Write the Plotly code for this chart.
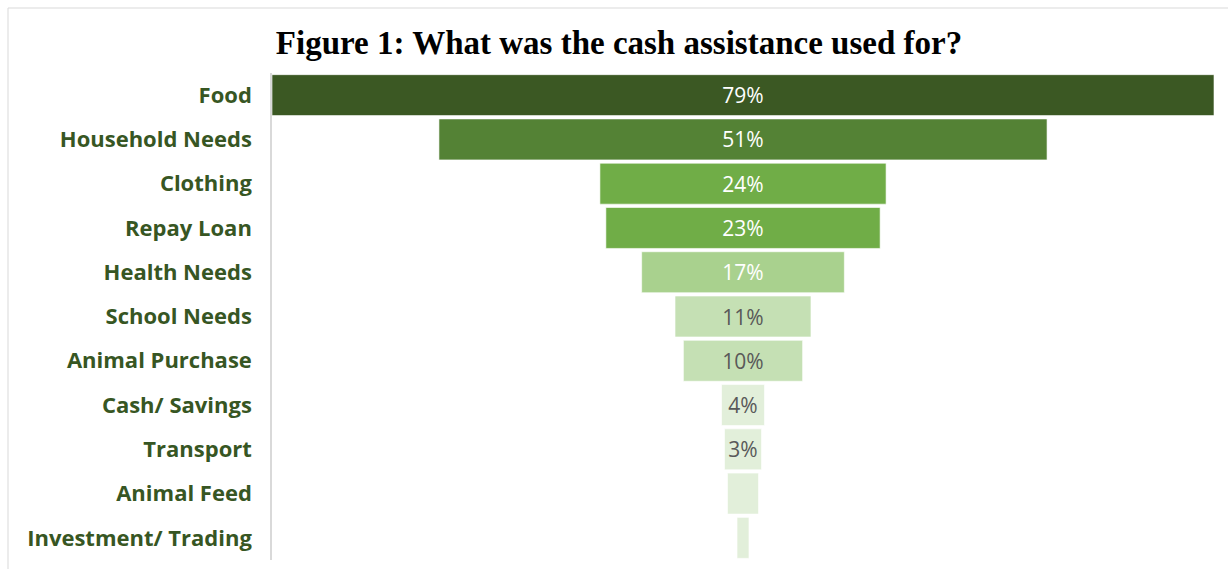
import plotly.graph_objects as go

categories = ["Food", "Household Needs", "Clothing", "Repay Loan", "Health Needs",
              "School Needs", "Animal Purchase", "Cash/ Savings", "Transport",
              "Animal Feed", "Investment/ Trading"]
values = [79, 51, 24, 23, 17, 11.4, 10, 3.6, 3.1, 2.6, 1.0]
colors = ["#3B5823", "#548235", "#70AD47", "#70AD47", "#A9D18E",
          "#C5E0B4", "#C5E0B4", "#E2EFDA", "#E2EFDA", "#E2EFDA", "#E2EFDA"]
text_colors = ["#FFFFFF"] * 5 + ["#595959"] * 6
labels = [f"{v:.0f}%" if v >= 3 else "" for v in values]

W, H = 1228, 569
L, R, T, B = 272, 14, 73, 9
pw = W - L - R
ph = H - T - B

fig = go.Figure(go.Funnel(
    y=categories,
    x=values,
    text=labels,
    textinfo="text",
    textposition="inside",
    insidetextanchor="middle",
    textfont=dict(family="Open Sans", size=21, color=text_colors),
    marker=dict(color=colors, line=dict(color="rgba(255,255,255,0.6)", width=1)),
    connector=dict(visible=False),
    hoverinfo="y+x",
))

px_to_paper_x = lambda p: (p - L) / pw
px_to_paper_y = lambda p: (H - B - p) / ph
fig.add_shape(type="line", xref="paper", yref="paper",
              x0=px_to_paper_x(8), x1=px_to_paper_x(1228),
              y0=px_to_paper_y(8), y1=px_to_paper_y(8),
              line=dict(color="#D9D9D9", width=1))
fig.add_shape(type="line", xref="paper", yref="paper",
              x0=px_to_paper_x(8), x1=px_to_paper_x(8),
              y0=px_to_paper_y(8), y1=px_to_paper_y(569),
              line=dict(color="#D9D9D9", width=1))

fig.update_layout(
    width=W, height=H,
    margin=dict(l=L, r=R, t=T, b=B),
    paper_bgcolor="white", plot_bgcolor="white",
    showlegend=False,
    funnelgap=0.075,
    title=dict(
        text="<b>Figure 1: What was the cash assistance used for?</b>",
        font=dict(family="Liberation Serif", size=33, color="#000000"),
        xref="container", yref="container",
        x=619 / W, xanchor="center",
        y=1 - 42 / H, yanchor="middle",
    ),
    xaxis=dict(visible=False, range=[-39.5, 39.5]),
    yaxis=dict(
        showline=True, linecolor="#D9D9D9", linewidth=1.5,
        showgrid=False, ticks="",
        ticklabelstandoff=14,
        tickfont=dict(family="Open Sans", size=22, color="#375623", weight="bold"),
    ),
)

fig.write_html("out.html")
